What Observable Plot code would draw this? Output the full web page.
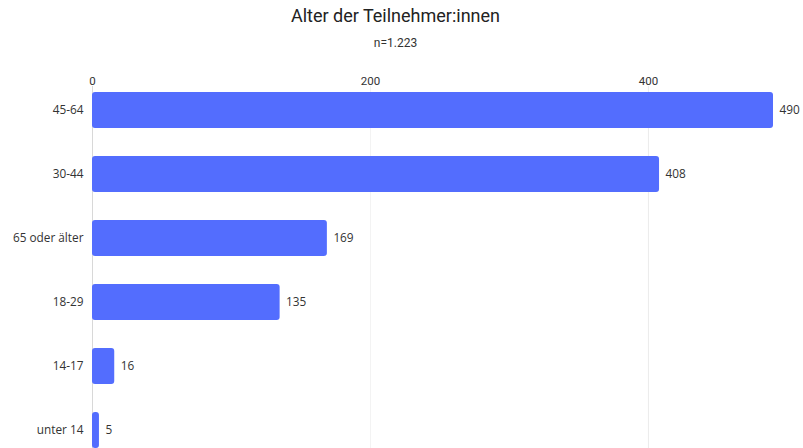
<!DOCTYPE html>
<html>
<head>
<meta charset="utf-8">
<script src="https://cdn.jsdelivr.net/npm/d3@7"></script>
<script src="https://cdn.jsdelivr.net/npm/@observablehq/plot@0.6"></script>
<style>
  html, body { margin: 0; padding: 0; background: #fff; overflow: hidden; }
  #title { font-family: Roboto, sans-serif; font-size: 18px; color: #222; text-align: center; height: 30px; line-height: 30px; padding-top: 1px; margin-left: -12px; }
  #subtitle { font-family: Roboto, sans-serif; font-size: 12px; color: #333; text-align: center; height: 24px; line-height: 24px; margin-left: -12px; }
  #chart svg { display: block; }
</style>
</head>
<body>
<div id="title">Alter der Teilnehmer:innen</div>
<div id="subtitle">n=1.223</div>
<div id="chart"></div>
<script>
const categories = ["45-64", "30-44", "65 oder älter", "18-29", "14-17", "unter 14"];
const values = [490, 408, 169, 135, 16, 5];
const xTicks = [0, 200, 400];

const data = categories.map((c, i) => ({category: c, value: values[i]}));

const chart = Plot.plot({
  width: 803,
  height: 400,
  marginTop: 31,
  marginBottom: 0,
  marginLeft: 92,
  marginRight: 30,
  style: {fontFamily: "'Open Sans', sans-serif", fontSize: "11.8px", color: "#333", background: "#fff"},
  x: {domain: [0, 490], axis: null},
  y: {domain: categories, paddingInner: 0.436, paddingOuter: 0.094, axis: null},
  marks: [
    Plot.ruleX(xTicks, {stroke: d => d === 0 ? "#d8d8d8" : d === 200 ? "#f3f3f3" : "#ebebeb", strokeWidth: 1}),
    Plot.axisX({anchor: "top", ticks: xTicks, tickSize: 0, tickPadding: 2, label: null, fontFamily: "Roboto, sans-serif", fontSize: 11.5, fill: "#333"}),
    Plot.axisY({anchor: "left", tickSize: 0, tickPadding: 9, label: null, fontSize: 11.8, fill: "#333"}),
    Plot.barX(data, {x: "value", y: "category", fill: "#536dfe", rx: 3}),
    Plot.text(data, {x: "value", y: "category", text: d => String(d.value), textAnchor: "start", dx: 6, fontSize: 11.8, fill: "#333"})
  ]
});
document.getElementById("chart").appendChild(chart);
</script>
</body>
</html>
